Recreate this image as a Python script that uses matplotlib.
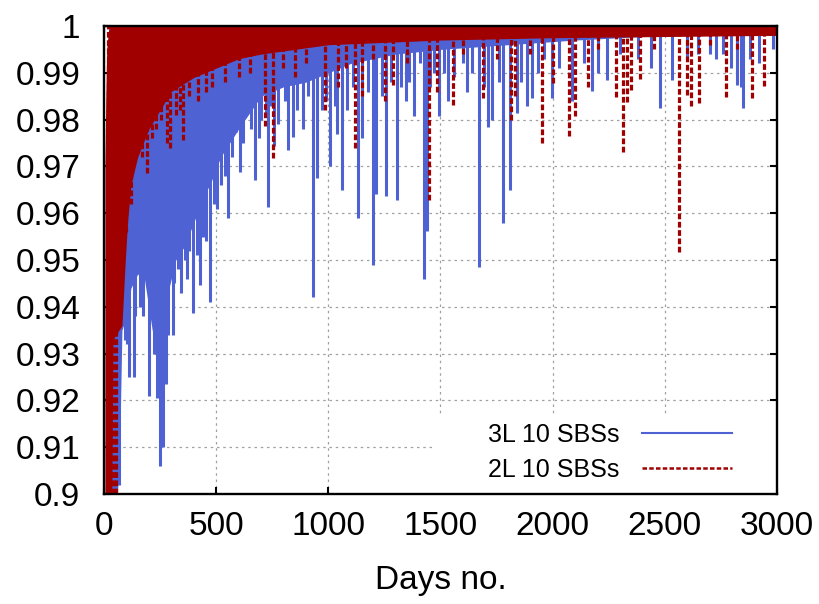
import matplotlib
matplotlib.use('Agg')
import matplotlib.pyplot as plt
from matplotlib.lines import Line2D
from matplotlib.patches import Rectangle
from matplotlib.ticker import FormatStrFormatter, MultipleLocator

plt.rcParams['font.family'] = ['Liberation Sans', 'DejaVu Sans']

# --- 3L 10 SBSs: solid lower envelope of the dense part, then single dips
blue_band_days = [20, 40, 60, 70, 80, 100, 120, 150, 180, 215, 240, 270, 290, 320, 360, 400,
                  440, 480, 520, 560, 600, 700, 800, 900, 1000, 1100, 1300, 1500, 1800, 2100, 2500, 3000]
blue_band_low = [0.900, 0.900, 0.900, 0.910, 0.935, 0.938, 0.944, 0.947, 0.946, 0.935, 0.932, 0.935,
                 0.944, 0.950, 0.953, 0.958, 0.963, 0.967, 0.972, 0.975, 0.978, 0.985, 0.987, 0.988,
                 0.990, 0.992, 0.994, 0.995, 0.996, 0.997, 0.998, 0.998]
blue_dip_days = [40, 50, 66, 95, 103, 112, 134, 140, 160, 175, 200, 222, 236, 250, 258, 265, 275, 285,
                 307, 330, 361, 380, 397, 428, 455, 473, 505, 520, 553, 588, 606, 640, 673, 700, 733,
                 759, 790, 821, 843, 888, 932, 949, 970, 1007, 1030, 1040, 1060, 1085, 1134, 1150,
                 1175, 1200, 1212, 1240, 1256, 1280, 1307, 1345, 1382, 1410, 1427, 1439, 1470, 1494,
                 1515, 1534, 1600, 1640, 1672, 1712, 1730, 1779, 1810, 1842, 1886, 1908, 1960, 1997,
                 2086, 2176, 2243, 2300, 2479, 2532, 2700, 2730, 2795, 2820, 2838, 2849, 2920]
blue_dip_vals = [0.900, 0.900, 0.902, 0.933, 0.932, 0.925, 0.925, 0.938, 0.940, 0.938, 0.921, 0.930,
                 0.9205, 0.906, 0.912, 0.910, 0.9236, 0.934, 0.934, 0.948, 0.950, 0.952, 0.9387,
                 0.9446, 0.954, 0.941, 0.961, 0.966, 0.959, 0.9774, 0.9688, 0.982, 0.967, 0.980,
                 0.9614, 0.9744, 0.987, 0.9735, 0.9763, 0.978, 0.942, 0.9675, 0.982, 0.970, 0.983,
                 0.977, 0.965, 0.982, 0.959, 0.976, 0.986, 0.949, 0.964, 0.985, 0.9637, 0.988,
                 0.9628, 0.9839, 0.9807, 0.992, 0.946, 0.9562, 0.990, 0.9807, 0.990, 0.9839, 0.992,
                 0.990, 0.9486, 0.9785, 0.980, 0.958, 0.965, 0.9814, 0.983, 0.9846, 0.993, 0.9846,
                 0.9839, 0.9862, 0.9885, 0.994, 0.9824, 0.9885, 0.994, 0.993, 0.991, 0.9875, 0.987,
                 0.9824, 0.992]
# shallower dips that make the ragged edge
blue_small_days = [310, 345, 370, 415, 440, 490, 540, 570, 620, 655, 690, 720, 745, 775, 805, 860,
                   910, 990, 1110, 1325, 1360, 1455, 1560, 1620, 1695, 1760, 1860, 1935, 2030, 2140,
                   2200, 2380, 2440, 2600, 2650, 2760, 2880, 2980]
blue_small_vals = [0.945, 0.943, 0.946, 0.951, 0.955, 0.962, 0.968, 0.972, 0.975, 0.978, 0.976,
                   0.981, 0.983, 0.979, 0.984, 0.982, 0.985, 0.984, 0.987, 0.987, 0.988, 0.987,
                   0.989, 0.986, 0.987, 0.988, 0.988, 0.990, 0.991, 0.992, 0.990, 0.993, 0.991,
                   0.993, 0.994, 0.994, 0.993, 0.995]

# --- 2L 10 SBSs
red_band_days = [4, 8, 12, 20, 35, 40, 80, 95, 105, 120, 150, 200, 250, 300, 400, 500, 600, 700,
                 1000, 1500, 2000, 3000]
red_band_low = [0.900, 0.900, 0.900, 0.900, 0.900, 0.933, 0.936, 0.950, 0.958, 0.966, 0.972, 0.978,
                0.982, 0.986, 0.989, 0.991, 0.993, 0.994, 0.996, 0.997, 0.9975, 0.998]
red_band_high = [0.970, 0.985, 0.995, 0.999, 1, 1, 1, 1, 1, 1, 1, 1, 1, 1, 1, 1, 1, 1, 1, 1, 1, 1]
red_dip_days = [20, 30, 45, 55, 100, 138, 160, 190, 252, 281, 294, 352, 455, 718, 753, 985, 1043,
                1119, 1150, 1252, 1290, 1449, 1484, 1557, 1690, 1814, 1830, 1953, 2002, 2073, 2100,
                2158, 2283, 2314, 2333, 2350, 2390, 2564, 2599, 2617, 2653, 2773, 2889, 2943]
red_dip_vals = [0.900, 0.900, 0.900, 0.900, 0.956, 0.9714, 0.975, 0.9685, 0.980, 0.975, 0.974,
                0.9756, 0.986, 0.9786, 0.9718, 0.982, 0.987, 0.974, 0.985, 0.984, 0.9875, 0.9628,
                0.9858, 0.9831, 0.9846, 0.980, 0.985, 0.975, 0.9878, 0.9764, 0.9808, 0.9869, 0.9849,
                0.973, 0.9838, 0.9863, 0.9887, 0.9518, 0.9853, 0.9828, 0.9835, 0.9848, 0.9846, 0.9872]
red_small_days = [120, 170, 215, 230, 320, 340, 380, 420, 480, 540, 600, 650, 800, 850, 900, 1080,
                  1200, 1350, 1600, 1750, 1900, 2200, 2450, 2700, 2820]
red_small_vals = [0.962, 0.972, 0.976, 0.978, 0.981, 0.982, 0.985, 0.984, 0.987, 0.988, 0.989,
                  0.990, 0.991, 0.989, 0.992, 0.991, 0.993, 0.992, 0.994, 0.993, 0.994, 0.995,
                  0.995, 0.996, 0.995]

blue = '#4f62d3'
red = '#a00000'
red_dash = (0, (1.8, 0.8))

fig = plt.figure(figsize=(8.2, 6.04), dpi=100)
ax = fig.add_axes([104 / 820, 110 / 604, 673 / 820, 468 / 604])

ax.fill_between(blue_band_days, blue_band_low, 1, color=blue, lw=0, zorder=2)
ax.vlines(blue_dip_days, blue_dip_vals, 1, color=blue, lw=2.2, zorder=2)
ax.vlines(blue_small_days, blue_small_vals, 1, color=blue, lw=2.2, zorder=2)
ax.fill_between(red_band_days, red_band_low, red_band_high, color=red, lw=0, zorder=3)
ax.vlines(red_dip_days, red_dip_vals, 1, color=red, lw=2.3, linestyles=[red_dash], zorder=3)
ax.vlines(red_small_days, red_small_vals, 1, color=red, lw=2.3, linestyles=[red_dash], zorder=3)

ax.set_xlim(0, 3000)
ax.set_ylim(0.9, 1.0)
ax.xaxis.set_major_locator(MultipleLocator(500))
ax.yaxis.set_major_locator(MultipleLocator(0.01))
ax.yaxis.set_major_formatter(FormatStrFormatter('%g'))

ax.grid(True, color='#a0a0a0', lw=0.9, linestyle=(0, (2, 3)))
ax.set_axisbelow(True)
for s in ax.spines.values():
    s.set_linewidth(1.7)
    s.set_zorder(5)
ax.tick_params(direction='in', length=5, width=1.5, top=True, right=True, labelsize=24)
ax.tick_params(axis='y', pad=17)
ax.tick_params(axis='x', pad=12)
ax.set_xlabel('Days no.', fontsize=24, labelpad=17)

# opaque key area
ax.add_patch(Rectangle((0.492, 0), 0.508, 0.1645, transform=ax.transAxes,
                       facecolor='white', edgecolor='none', zorder=1))
handles = [Line2D([], [], color=blue, lw=1.5),
           Line2D([], [], color=red, lw=1.8, linestyle=(0, (1.8, 0.9)))]
ax.legend(handles, ['3L 10 SBSs', '2L 10 SBSs'], loc='center right',
          bbox_to_anchor=(0.933, 0.0887), frameon=False, fontsize=18, markerfirst=False,
          handlelength=3.6, handletextpad=0.9, labelspacing=0.45, borderpad=0, borderaxespad=0)

fig.savefig('out.png', dpi=100)
